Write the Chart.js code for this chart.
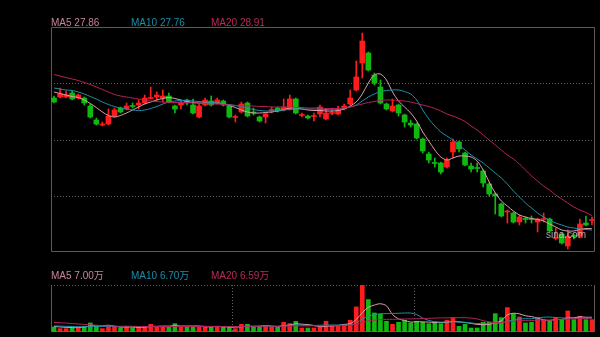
<!DOCTYPE html>
<html><head><meta charset="utf-8">
<script src="https://cdn.jsdelivr.net/npm/chart.js@4.4.1/dist/chart.umd.min.js"></script>
<style>
html,body{margin:0;padding:0;background:#000;width:600px;height:337px;overflow:hidden}
#wrap{position:relative;width:600px;height:337px;background:#000}
canvas{position:absolute;left:0}
#c1{top:0}
#c2{top:260px}
.lg{position:absolute;font-size:10px;font-family:"Liberation Sans",Arial,"Noto Sans CJK SC",sans-serif;line-height:10px;white-space:nowrap}
#wm{position:absolute;left:546px;top:229.5px;font-size:10px;font-family:"Liberation Sans",Arial,sans-serif;line-height:10px;color:rgba(205,205,205,0.8)}
</style></head><body>
<div id="wrap">
<canvas id="c1" width="600" height="260"></canvas>
<canvas id="c2" width="600" height="77"></canvas>
<span class="lg" id="p5" style="left:51px;top:17.5px"></span>
<span class="lg" id="p10" style="left:131px;top:17.5px"></span>
<span class="lg" id="p20" style="left:211px;top:17.5px"></span>
<span class="lg" id="v5" style="left:51px;top:270.8px"></span>
<span class="lg" id="v10" style="left:131px;top:270.8px"></span>
<span class="lg" id="v20" style="left:211px;top:270.8px"></span>
<span id="wm">sina.com</span>
</div>
<script>
// ---- price data (OHLC) ----
const open = [38.32,38.40,38.40,38.72,38.32,38.32,37.68,36.56,36.16,36.24, 36.88,37.52,37.44,37.68,37.76,37.92,38.28,38.40,38.32,38.48, 37.68,37.76,38.16,37.76,36.80,37.76,38.08,37.92,38.08,37.68, 36.76,37.20,37.92,37.20,36.80,36.80,37.32,37.52,37.36,37.44, 38.24,36.92,36.88,36.84,37.04,36.64,37.08,37.04,37.44,37.84, 38.96,41.12,41.92,40.16,39.20,37.84,37.28,37.76,36.96,36.32, 36.24,35.04,33.84,33.12,33.12,32.80,34.00,34.80,33.92,32.88, 32.72,32.48,31.44,30.64,29.84,29.20,29.12,28.40,28.64,28.64, 28.40,28.60,28.64,27.08,27.44,26.48,27.28,27.28,28.32,28.52];
const high = [38.48,39.12,38.88,38.88,38.64,38.40,37.84,36.72,36.40,37.44, 37.52,37.60,37.92,37.92,38.16,38.56,39.20,38.80,38.96,38.72, 37.76,38.08,38.24,38.24,37.84,38.32,38.48,38.32,38.16,37.76, 36.96,38.00,38.00,37.52,36.88,37.12,37.60,37.60,38.24,38.56, 38.32,37.12,36.96,37.12,37.76,37.44,37.52,37.68,37.84,38.96, 41.28,43.52,42.00,40.32,39.76,37.92,38.24,37.84,37.04,36.56, 36.32,35.12,34.00,33.52,33.20,33.52,35.04,34.88,34.00,33.12, 33.12,32.56,31.52,30.72,29.92,29.36,29.20,28.96,28.80,28.88, 28.72,29.12,28.72,27.92,27.52,27.76,27.44,28.64,28.88,28.80];
const low = [37.92,38.32,38.32,38.16,38.24,37.76,36.72,36.16,36.08,36.16, 36.80,37.12,37.36,37.52,37.44,37.84,38.24,38.16,38.00,37.92, 37.12,37.44,37.76,37.04,36.72,37.68,37.68,37.84,37.68,36.72, 36.40,37.12,36.80,36.96,36.40,36.32,37.12,37.20,37.28,37.36, 37.04,36.80,36.64,36.48,36.80,36.56,36.96,36.96,37.36,37.76, 38.88,39.92,40.48,39.36,37.84,37.36,37.20,36.88,36.00,36.00, 35.04,33.92,33.12,32.80,32.24,32.72,33.52,34.00,32.88,32.40, 32.40,31.20,30.48,29.04,28.80,28.32,28.32,28.16,28.32,28.32, 27.60,28.40,27.60,26.96,26.64,26.24,27.04,27.12,28.08,28.16];
const close = [38.00,38.64,38.56,38.24,38.56,37.92,36.80,36.24,36.24,36.88, 37.36,37.20,37.68,37.64,37.92,38.32,38.32,38.56,38.48,38.00, 37.44,38.00,37.92,37.12,37.68,38.16,37.76,38.16,37.76,36.80, 36.80,37.84,36.88,37.12,36.48,37.04,37.36,37.28,37.60,38.24, 37.12,36.96,36.72,36.88,37.60,37.12,37.12,37.36,37.68,38.32, 40.00,42.88,40.56,39.52,37.92,37.44,37.68,37.12,36.40,36.16, 35.12,34.08,33.36,33.08,32.40,33.36,34.80,34.24,32.96,32.64, 32.68,31.52,30.64,30.48,28.88,29.28,28.40,28.80,28.60,28.60, 28.64,28.64,27.68,27.12,26.72,27.28,27.24,28.24,28.16,28.56];
// ---- price moving averages ----
const ma5 = [38.80,38.68,38.56,38.44,38.36,38.16,37.88,37.56,37.20,36.92, 36.80,36.92,37.12,37.36,37.60,37.84,38.00,38.16,38.28,38.36, 38.28,38.16,38.04,37.96,37.92,37.92,37.92,37.92,37.84,37.72, 37.56,37.36,37.20,37.12,37.12,37.16,37.20,37.28,37.40,37.52, 37.52,37.44,37.36,37.32,37.32,37.28,37.28,37.32,37.44,37.68, 38.00,38.64,39.52,40.16,40.24,39.76,38.80,38.08,37.60,37.12, 36.48,35.60,34.88,34.16,33.60,33.36,33.52,33.68,33.68,33.60, 33.28,32.56,31.60,30.72,30.08,29.68,29.28,28.96,28.80,28.68, 28.60,28.48,28.24,28.00,27.76,27.68,27.68,27.80,27.88,27.86];
const ma10 = [39.12,39.04,38.96,38.92,38.80,38.64,38.44,38.24,38.00,37.80, 37.64,37.52,37.44,37.36,37.32,37.36,37.48,37.64,37.84,38.00, 38.08,38.12,38.12,38.08,38.04,38.00,37.96,37.92,37.84,37.80, 37.72,37.64,37.52,37.40,37.32,37.28,37.28,37.32,37.36,37.40, 37.44,37.44,37.44,37.44,37.44,37.40,37.36,37.40,37.48,37.60, 37.76,38.08,38.40,38.64,38.84,38.92,38.96,38.96,38.84,38.64, 38.16,37.36,36.64,36.08,35.60,35.28,34.96,34.56,34.16,33.76, 33.44,33.12,32.72,32.32,31.92,31.44,30.88,30.40,29.92,29.52, 29.12,28.80,28.56,28.32,28.16,28.00,27.92,27.84,27.80,27.76];
const ma20 = [40.20,40.08,39.96,39.84,39.72,39.56,39.40,39.20,39.00,38.80, 38.60,38.48,38.40,38.32,38.24,38.16,38.08,38.04,38.00,37.96, 37.96,37.96,37.96,37.92,37.92,37.88,37.84,37.84,37.80,37.76, 37.72,37.68,37.68,37.68,37.64,37.64,37.60,37.60,37.60,37.60, 37.56,37.56,37.52,37.52,37.52,37.48,37.48,37.48,37.52,37.60, 37.72,37.84,37.96,38.04,38.12,38.16,38.16,38.12,38.08,38.00, 37.88,37.76,37.64,37.48,37.28,37.04,36.88,36.68,36.44,36.08, 35.76,35.36,34.96,34.56,34.16,33.76,33.44,33.04,32.56,32.08, 31.68,31.28,30.96,30.56,30.24,29.92,29.60,29.36,29.16,28.91];
// ---- volume (万) ----
const vol = [2.38,1.59,1.59,1.90,1.90,2.70,4.29,2.70,1.59,2.70, 2.70,1.90,2.38,1.90,2.38,2.70,3.65,2.70,2.38,2.38, 3.97,2.38,2.38,2.70,2.70,2.38,2.38,2.70,2.38,2.38, 1.59,3.65,3.65,2.38,2.70,2.70,2.38,2.70,4.60,3.97, 5.08,1.90,1.90,1.90,2.71,5.10,2.71,3.00,3.48,5.57, 11.90,22.24,15.38,9.05,8.43,5.10,3.67,4.62,5.57,4.29, 5.10,4.62,3.95,4.76,3.95,5.57,6.81,2.71,3.67,1.90, 1.90,4.62,4.62,8.71,6.81,11.57,8.71,7.14,4.29,4.62, 6.81,5.57,5.10,6.81,5.86,10.00,5.86,7.48,5.86,5.86];
const vma5 = [2.6,2.4,2.2,2.1,2.1,2.3,2.9,3.0,3.0,3.2, 2.8,2.3,2.4,2.3,2.2,2.3,2.6,2.7,2.8,2.8, 3.0,2.8,2.8,2.8,2.8,2.5,2.5,2.6,2.5,2.4, 2.3,2.5,2.7,2.7,2.8,3.0,2.8,2.6,3.0,3.3, 3.9,3.7,3.5,3.1,2.5,2.7,2.9,3.1,3.6,4.0, 5.9,9.2,11.7,12.8,13.4,12.4,8.3,6.2,5.5,4.7, 4.9,4.8,4.7,4.5,4.5,4.6,5.0,4.8,4.5,4.1, 3.6,3.5,3.6,4.4,5.3,8.1,8.9,8.6,7.7,7.3, 6.6,5.8,5.5,6.0,5.9,6.7,6.7,7.2,7.0,7.00];
const vma10 = [2.9,2.8,2.7,2.6,2.5,2.5,2.6,2.6,2.6,2.6, 2.6,2.6,2.7,2.6,2.6,2.5,2.5,2.5,2.5,2.5, 2.6,2.7,2.7,2.8,2.8,2.7,2.6,2.7,2.6,2.6, 2.5,2.6,2.7,2.6,2.6,2.7,2.7,2.7,2.9,3.0, 3.3,3.2,3.1,3.1,3.2,3.3,3.3,3.3,3.3,3.3, 4.2,6.2,7.5,8.2,8.7,8.7,8.8,8.9,9.0,9.0, 8.3,6.6,5.5,4.9,4.7,4.8,4.9,4.7,4.6,4.3, 4.0,4.1,4.0,4.1,4.2,5.1,5.7,6.2,6.3,6.3, 6.7,7.0,7.1,6.9,6.7,6.6,6.4,6.4,6.5,6.70];
const vma20 = [4.5,4.4,4.2,4.0,3.8,3.6,3.4,3.2,3.0,2.9, 2.8,2.7,2.7,2.7,2.6,2.6,2.6,2.6,2.6,2.6, 2.6,2.6,2.6,2.6,2.6,2.6,2.6,2.6,2.6,2.6, 2.6,2.6,2.7,2.7,2.7,2.7,2.7,2.7,2.7,2.8, 2.9,2.9,2.9,2.9,2.9,3.0,3.0,3.0,3.1,3.2, 3.7,4.6,5.3,5.6,5.9,6.0,6.0,6.1,6.2,6.2, 6.3,6.4,6.5,6.6,6.7,6.7,6.8,6.8,6.8,6.6, 6.2,5.4,4.8,4.5,4.5,4.8,5.1,5.4,5.4,5.4, 5.6,5.6,5.6,5.9,6.0,6.2,6.3,6.4,6.5,6.59];
// ---- axes ----
const priceTicks = [26, 30.5, 35, 39.5, 44];
const volMax = 22.3;
const dividers = [30, 60];
const labels = open.map((_, i) => 'D' + (i + 1));

const RED = '#ff1c1c', GREEN = '#10b810';
const C5 = '#dca0b0', C10 = '#1a92ab', C20 = '#b8225c';
const candleColors = open.map((o, i) => close[i] >= o ? RED : GREEN);

const framePlugin = {
  id: 'frame',
  beforeDatasetsDraw(chart, args, o) {
    const { ctx, chartArea: a, scales: { x, y } } = chart;
    ctx.save();
    ctx.lineWidth = 1;
    ctx.strokeStyle = '#636363';
    ctx.setLineDash([1, 2]);
    (o.hLines || []).forEach(v => {
      const py = Math.round(y.getPixelForValue(v)) + 0.5;
      ctx.beginPath(); ctx.moveTo(a.left, py); ctx.lineTo(a.right, py); ctx.stroke();
    });
    (o.vLines || []).forEach(i => {
      const px = Math.round((x.getPixelForValue(i - 1) + x.getPixelForValue(i)) / 2) + 0.5;
      ctx.beginPath(); ctx.moveTo(px, a.top); ctx.lineTo(px, a.bottom); ctx.stroke();
    });
    if (o.dottedTop) {
      ctx.beginPath(); ctx.moveTo(a.left, a.top + 0.5); ctx.lineTo(a.right, a.top + 0.5); ctx.stroke();
    }
    ctx.setLineDash([]);
    ctx.strokeStyle = '#5a5a5a';
    const L = a.left + 0.5, R = a.right - 0.5, T = a.top + 0.5, B = a.bottom - 0.5;
    ctx.beginPath();
    if (o.dottedTop) {
      ctx.moveTo(L, T); ctx.lineTo(L, B); ctx.lineTo(R, B); ctx.lineTo(R, T);
    } else {
      ctx.rect(L, T, R - L, B - T);
    }
    ctx.stroke();
    ctx.restore();
  }
};

function lineDs(data, color) {
  return { type: 'line', data, borderColor: color, borderWidth: 1, pointRadius: 0, tension: 0.3, fill: false, order: 0 };
}

const baseOpts = (yOpts, padding, frame) => ({
  responsive: false, animation: false, events: [],
  layout: { padding },
  plugins: { legend: { display: false }, tooltip: { enabled: false }, frame },
  scales: {
    x: { type: 'category', display: false, offset: true },
    y: Object.assign({ display: false }, yOpts)
  }
});

new Chart(document.getElementById('c1'), {
  type: 'bar',
  data: {
    labels,
    datasets: [
      { data: low.map((l, i) => [l, high[i]]), backgroundColor: candleColors, barThickness: 1, grouped: false, order: 3 },
      { data: open.map((o, i) => [o, close[i]]), backgroundColor: candleColors, barThickness: 5, minBarLength: 1, grouped: false, order: 2 },
      lineDs(ma20, C20), lineDs(ma10, C10), lineDs(ma5, C5)
    ]
  },
  options: baseOpts({ min: priceTicks[0], max: priceTicks[priceTicks.length - 1] },
    { left: 51, top: 27, right: 5, bottom: 8 },
    { hLines: priceTicks.slice(1, -1) }),
  plugins: [framePlugin]
});

new Chart(document.getElementById('c2'), {
  type: 'bar',
  data: {
    labels,
    datasets: [
      { data: vol, backgroundColor: candleColors, barThickness: 4, grouped: false, order: 2 },
      lineDs(vma20, C20), lineDs(vma10, C10), lineDs(vma5, C5)
    ]
  },
  options: baseOpts({ min: 0, max: volMax },
    { left: 51, top: 25, right: 5, bottom: 5 },
    { vLines: dividers, dottedTop: true }),
  plugins: [framePlugin]
});

const last = a => a[a.length - 1];
function setLg(id, txt, color) { const e = document.getElementById(id); e.textContent = txt; e.style.color = color; }
setLg('p5', 'MA5 ' + last(ma5).toFixed(2), '#c6849a');
setLg('p10', 'MA10 ' + last(ma10).toFixed(2), '#1a8ea8');
setLg('p20', 'MA20 ' + last(ma20).toFixed(2), '#b82a5c');
setLg('v5', 'MA5 ' + last(vma5).toFixed(2) + '万', '#c6849a');
setLg('v10', 'MA10 ' + last(vma10).toFixed(2) + '万', '#1a8ea8');
setLg('v20', 'MA20 ' + last(vma20).toFixed(2) + '万', '#b82a5c');
</script>
</body></html>
